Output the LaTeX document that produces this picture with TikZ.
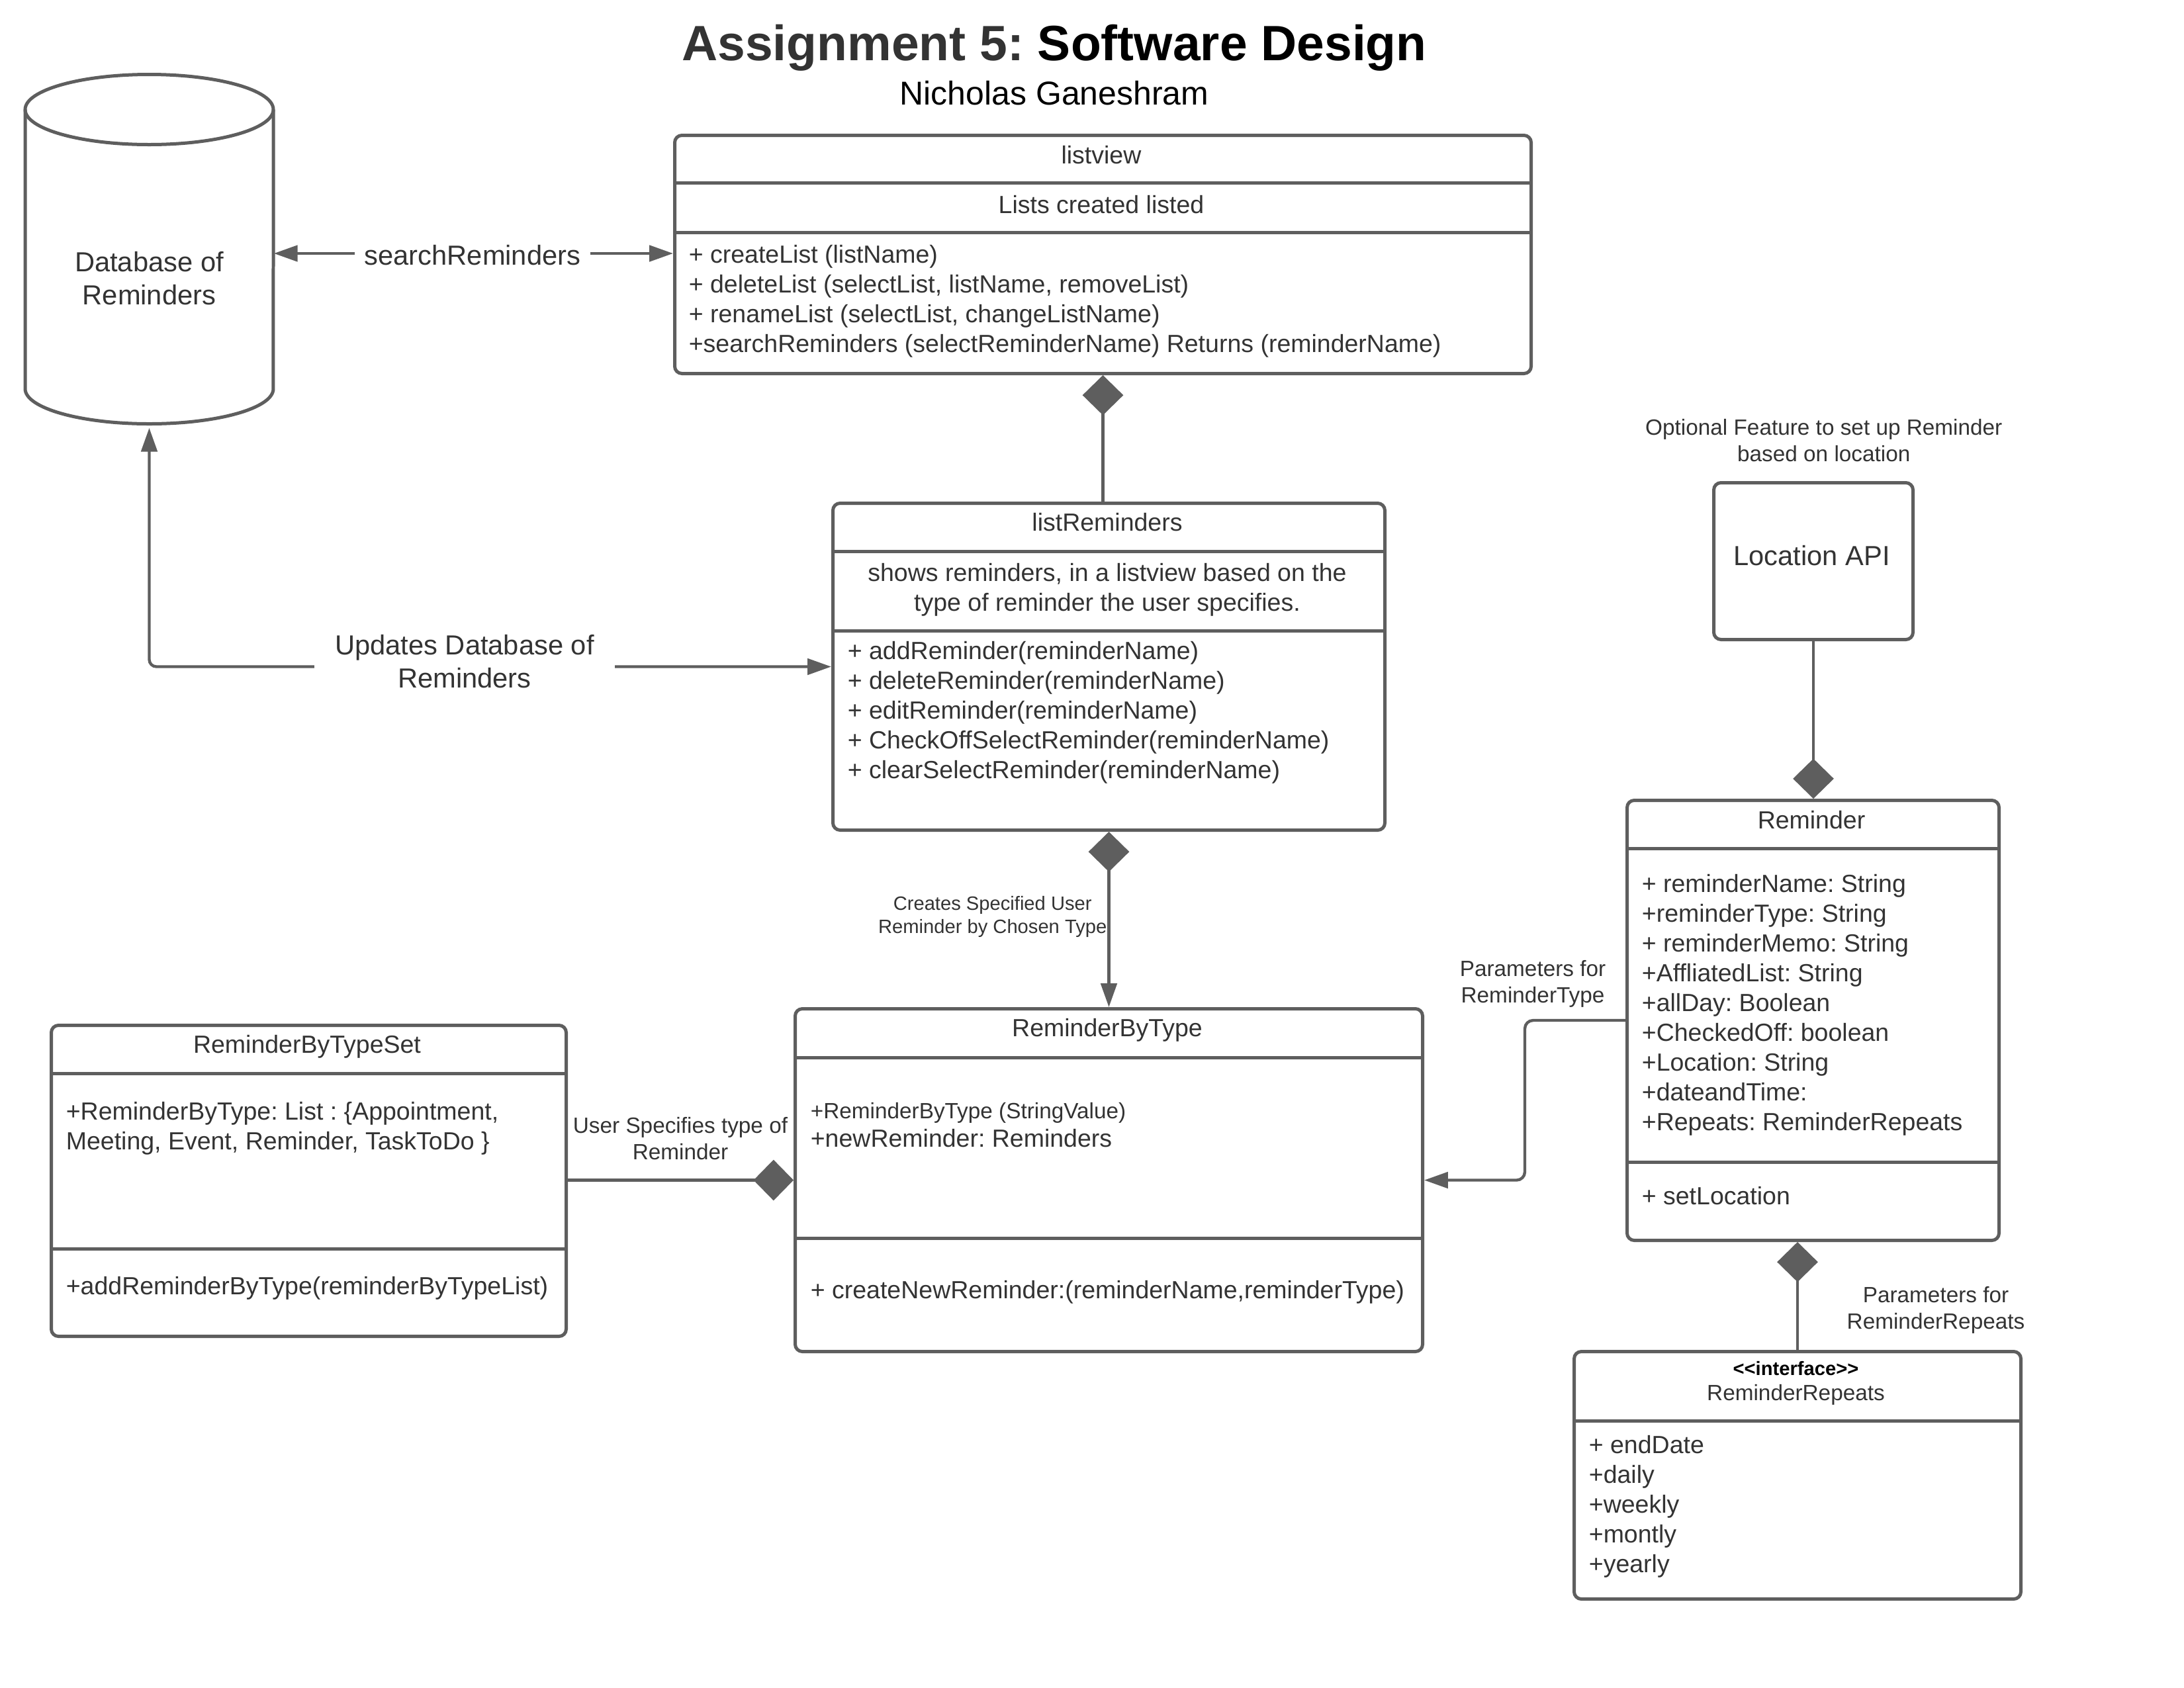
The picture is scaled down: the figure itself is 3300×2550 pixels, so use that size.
\documentclass[tikz,border=0pt]{standalone}
\usepackage{fontspec}
\setmainfont[Ligatures=CommonOff]{Liberation Sans}
\usetikzlibrary{arrows.meta,calc}
\definecolor{lc}{HTML}{5E5E5E}
\definecolor{tc}{HTML}{333333}
\begin{document}
\frenchspacing
\begin{tikzpicture}[x=0.24pt,y=-0.24pt,
  >={Triangle[length=8.6pt,width=5.8pt]},
  dia/.tip={Diamond[length=14.5pt,width=14.8pt]},
  umlbox/.style={draw=lc,line width=1.2pt,rounded corners=2.6pt,inner sep=0pt,anchor=north west,fill=white},
  divider/.style={draw=lc,line width=1.2pt},
  conn/.style={draw=lc,line width=1.05pt},
  t7/.style={text=tc,inner sep=0pt,font=\fontsize{7pt}{8.4pt}\selectfont},
  t8/.style={text=tc,inner sep=0pt,font=\fontsize{8pt}{9.6pt}\selectfont},
  t9/.style={text=tc,inner sep=0pt,font=\fontsize{9pt}{10.8pt}\selectfont},
  t10/.style={text=tc,inner sep=0pt,font=\fontsize{10pt}{12pt}\selectfont},
]
\fill[white] (0,0) rectangle (3300,2550);
\useasboundingbox (0,0) rectangle (3300,2550);

% ---------- titles
\node[inner sep=0pt,anchor=base,text=black,font=\fontsize{18pt}{21.6pt}\selectfont\bfseries] (title) at (1593,91) {\textcolor{tc}{Assignment 5:} Software Design};
\node[inner sep=0pt,anchor=base,text=black,font=\fontsize{12pt}{14.4pt}\selectfont] (author) at (1593,158.5) {Nicholas Ganeshram};

% ---------- boxes
\node[umlbox,minimum width=1294*0.24pt,minimum height=360*0.24pt] (lv) at (1017,202) {};
\node[umlbox,minimum width=834*0.24pt,minimum height=494*0.24pt] (lr) at (1256,758) {};
\node[umlbox,minimum width=948*0.24pt,minimum height=518*0.24pt] (rbt) at (1199,1522) {};
\node[umlbox,minimum width=778*0.24pt,minimum height=470*0.24pt] (rbts) at (75,1547) {};
\node[umlbox,minimum width=562*0.24pt,minimum height=665*0.24pt] (rem) at (2456,1207) {};
\node[umlbox,minimum width=675*0.24pt,minimum height=374*0.24pt] (rr) at (2376,2040) {};
\node[umlbox,minimum width=301*0.24pt,minimum height=237*0.24pt] (loc) at (2587,727) {};
\node[minimum width=375*0.24pt,minimum height=528*0.24pt,inner sep=0pt] (db) at (225.5,376) {};

% dividers
\draw[divider] (1017,276) -- (2311,276);
\draw[divider] (1017,351) -- (2311,351);
\draw[divider] (1256,833) -- (2090,833);
\draw[divider] (1256,953) -- (2090,953);
\draw[divider] (1199,1598) -- (2147,1598);
\draw[divider] (1199,1871) -- (2147,1871);
\draw[divider] (75,1622) -- (853,1622);
\draw[divider] (75,1887) -- (853,1887);
\draw[divider] (2456,1282) -- (3018,1282);
\draw[divider] (2456,1756) -- (3018,1756);
\draw[divider] (2376,2147) -- (3051,2147);

% database cylinder
\draw[divider,fill=white] (38,165.5) -- (38,587.5) arc[start angle=180,end angle=360,x radius=45pt,y radius=12.72pt] -- (413,165.5);
\draw[divider] (225.5,165.5) ellipse [x radius=45pt,y radius=12.72pt];

% ---------- connectors
\coordinate (sry) at (700,383);
\draw[conn,<->] (db.east |- sry) -- (lv.west |- sry);
\draw[conn,<->,rounded corners=2.6pt,shorten <=1.4pt] (db.south) |- (lr.west);
\draw[conn,{dia}-] (lv.south) -- (lv.south |- lr.north);
\draw[conn,{dia}->] (lr.south) -- (rbt.north);
\draw[conn,-{dia}] (rbts.east |- rbt.west) -- (rbt.west);
\draw[conn,->,rounded corners=3pt] (rem.west) -| ($(rbt.east)!0.5!(rem.west)$) |- (rbt.east);
\draw[conn,-{dia}] (loc.south) -- (loc.south |- rem.north);
\draw[conn,{dia}-] (rem.south -| rr.north) -- (rr.north);

% ---------- box texts
% listview
\node[t9,anchor=base] (lvname) at (1664,247) {listview};
\node[t9,anchor=base] (lvdesc) at (1664,322) {Lists created listed};
\node[t9,anchor=north west,align=left] (lvops) at (1040,365.5) {\strut+ createList (listName)\\+ deleteList (selectList, listName, removeList)\\+ renameList (selectList, changeListName)\\+searchReminders (selectReminderName) Returns (reminderName)};
% listReminders
\node[t9,anchor=base] (lrname) at (1673,802.5) {listReminders};
\node[t9,anchor=north,align=center] (lrdesc) at (1673,846) {\strut shows reminders, in a listview based on the\\type of reminder the user specifies.};
\node[t9,anchor=north west,align=left] (lrops) at (1280,964.5) {\strut+ addReminder(reminderName)\\+ deleteReminder(reminderName)\\+ editReminder(reminderName)\\+ CheckOffSelectReminder(reminderName)\\+ clearSelectReminder(reminderName)};
% ReminderByType
\node[t9,anchor=base] (rbtname) at (1673,1566) {ReminderByType};
\node[t8,anchor=base west] (rbtattr1) at (1224,1690.5) {+ReminderByType (StringValue)};
\node[t9,anchor=base west] (rbtattr2) at (1224,1733.5) {+newReminder: Reminders};
\node[t9,anchor=base west] (rbtops) at (1224,1962.5) {+ createNewReminder:(reminderName,reminderType)};
% ReminderByTypeSet
\node[t9,anchor=base] (rbtsname) at (464,1591) {ReminderByTypeSet};
\node[t9,anchor=north west,align=left] (rbtsattr) at (99,1660.5) {\strut+ReminderByType: List : \{Appointment,\\Meeting, Event, Reminder, TaskToDo \}};
\node[t9,anchor=base west] (rbtsops) at (99,1956) {+addReminderByType(reminderByTypeList)};
% Reminder
\node[t9,anchor=base] (remname) at (2737,1252.5) {Reminder};
\node[t9,anchor=north west,align=left] (remattr) at (2480,1316) {\strut+ reminderName: String\\+reminderType: String\\+ reminderMemo: String\\+AffliatedList: String\\+allDay: Boolean\\+CheckedOff: boolean\\+Location: String\\+dateandTime:\\+Repeats: ReminderRepeats};
\node[t9,anchor=base west] (remops) at (2480,1820.5) {+ setLocation};
% ReminderRepeats
\node[inner sep=0pt,text=black,anchor=base,font=\fontsize{7pt}{8.4pt}\selectfont\bfseries] (rrster) at (2713.5,2078) {<\kern0pt<interface>\kern0pt>};
\node[t8,anchor=base] (rrname) at (2713.5,2116) {ReminderRepeats};
\node[t9,anchor=north west,align=left] (rrattr) at (2400,2164.5) {\strut+ endDate\\+daily\\+weekly\\+montly\\+yearly};
% Location API
\node[t10,anchor=base] (locname) at (2737.5,854) {Location API};
% Database
\node[t10,anchor=north,align=center] (dbname) at (225.5,375) {\strut Database of\\Reminders};

% ---------- labels
\node[t8,anchor=north,align=center] (locnote) at (2755.8,628.7) {\strut Optional Feature to set up Reminder\\based on location};
\node[t7,anchor=north,align=center] (creates) at (1499.7,1350.5) {\strut Creates Specified User\\Reminder by Chosen Type};
\node[t8,anchor=north,align=center] (specifies) at (1028,1684) {\strut User Specifies type of\\Reminder};
\node[t8,anchor=north,align=center] (paramtype) at (2316,1447) {\strut Parameters for\\ReminderType};
\node[t8,anchor=north,align=center] (paramrep) at (2925,1940) {\strut Parameters for\\ReminderRepeats};
\node[t10,anchor=base,fill=white,inner xsep=3.6pt,inner ysep=2pt] (srlabel) at (714,400) {searchReminders};
\node[t10,anchor=north,align=center,fill=white,inner xsep=7.4pt,inner ysep=0pt] (updlabel) at (702,954) {\strut Updates Database of\\Reminders};
\end{tikzpicture}
\end{document}
